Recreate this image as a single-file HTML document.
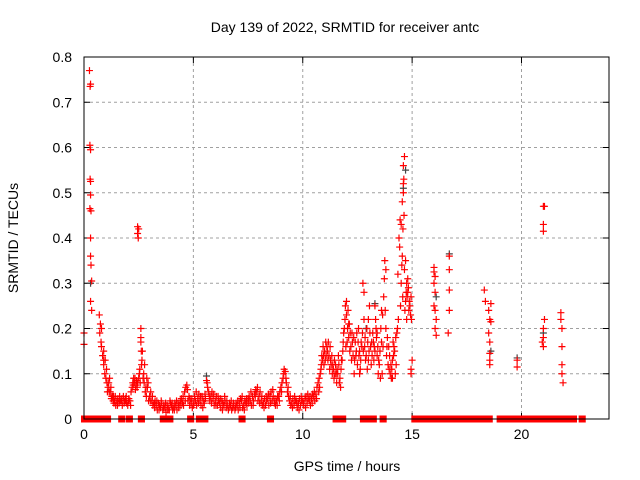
<!DOCTYPE html>
<html><head><meta charset="utf-8">
<style>
body{margin:0;background:#fff;}
svg{display:block;font-family:"Liberation Sans",sans-serif;}
</style></head>
<body>
<svg id="chart" width="640" height="480" xmlns="http://www.w3.org/2000/svg">
<rect width="640" height="480" fill="#fff"/>
<text x="345" y="32" font-size="14" text-anchor="middle" fill="#000">Day 139 of 2022, SRMTID for receiver antc</text>
<text x="347" y="471" font-size="14" text-anchor="middle" fill="#000">GPS time / hours</text>
<text x="18" y="238" font-size="14" text-anchor="middle" fill="#000" transform="rotate(-90 18 238)">SRMTID / TECUs</text>
<g id="grid"></g><g id="ticks"></g><g id="marks"></g>
<rect x="84" y="57" width="525" height="362" fill="none" stroke="#000" stroke-width="1"/>
</svg>
<script>
const xTicks=[0,5,10,15,20];
const yTicks=[0,0.1,0.2,0.3,0.4,0.5,0.6,0.7,0.8];
const yTickLabels=["0","0.1","0.2","0.3","0.4","0.5","0.6","0.7","0.8"];
const earlyPoints=[[0,0.19],[0,0.165],[0.25,0.77],[0.28,0.735],[0.3,0.74],[0.27,0.605],[0.3,0.595],[0.28,0.53],[0.3,0.525],[0.27,0.465],[0.32,0.46],[0.3,0.495],[0.3,0.4],[0.3,0.36],[0.32,0.34],[0.35,0.305],[0.3,0.26],[0.35,0.24],[0.7,0.23],[0.75,0.21],[0.8,0.2],[0.72,0.19],[0.78,0.17],[0.8,0.16],[0.85,0.14],[0.9,0.13],[0.9,0.15]];
const layerA=[[0.9,0.12],[1.0,0.09],[1.1,0.07],[1.2,0.06],[1.3,0.05],[1.4,0.04],[1.5,0.04],[1.6,0.035],[1.7,0.04],[1.8,0.05],[1.9,0.045],[2.0,0.03],[2.1,0.04],[2.2,0.07],[2.3,0.08],[2.4,0.085],[2.5,0.09],[2.6,0.17],[2.7,0.09],[2.8,0.06],[2.9,0.07],[3.0,0.05],[3.1,0.04],[3.2,0.035],[3.3,0.03],[3.4,0.035],[3.5,0.025],[3.6,0.02],[3.7,0.025],[3.8,0.03],[3.9,0.02],[4.0,0.03],[4.1,0.025],[4.2,0.03],[4.3,0.035],[4.4,0.04],[4.5,0.035],[4.6,0.06],[4.7,0.075],[4.8,0.05],[4.9,0.035],[5.0,0.03],[5.1,0.04],[5.2,0.045],[5.3,0.04],[5.4,0.05],[5.5,0.035],[5.6,0.085],[5.7,0.06],[5.8,0.05],[5.9,0.045],[6.0,0.04],[6.1,0.03],[6.2,0.035],[6.3,0.04],[6.4,0.03],[6.5,0.025],[6.6,0.02],[6.7,0.03],[6.8,0.025],[6.9,0.02],[7.0,0.03],[7.1,0.035],[7.2,0.04],[7.3,0.03],[7.4,0.035],[7.5,0.045],[7.6,0.04],[7.7,0.05],[7.8,0.055],[7.9,0.06],[8.0,0.05],[8.1,0.04],[8.2,0.035],[8.3,0.03],[8.4,0.045],[8.5,0.05],[8.6,0.04],[8.7,0.035],[8.8,0.04],[8.9,0.05],[9.0,0.07],[9.1,0.09],[9.2,0.105],[9.3,0.06],[9.4,0.04],[9.5,0.035],[9.6,0.03],[9.7,0.04],[9.8,0.035],[9.9,0.03],[10.0,0.04],[10.1,0.045],[10.2,0.035],[10.3,0.04],[10.4,0.045],[10.5,0.05],[10.6,0.055],[10.7,0.08],[10.8,0.1],[10.9,0.13],[11.0,0.15],[11.1,0.16],[11.2,0.14],[11.3,0.12],[11.4,0.11],[11.5,0.12],[11.6,0.1],[11.7,0.09],[11.8,0.13],[11.9,0.2],[12.0,0.23],[12.1,0.18],[12.2,0.16],[12.3,0.14],[12.4,0.17],[12.5,0.12],[12.6,0.15],[12.7,0.16],[12.8,0.22],[12.9,0.14],[13.0,0.13],[13.1,0.16],[13.2,0.19],[13.3,0.15],[13.4,0.14],[13.5,0.12],[13.6,0.17],[13.7,0.27],[13.8,0.2],[13.9,0.12],[14.0,0.1],[14.1,0.13],[14.2,0.15],[14.3,0.19],[14.4,0.4],[14.5,0.3],[14.6,0.5],[14.7,0.26],[14.8,0.28],[14.9,0.25],[15.0,0.13]];
const layerB=[[0.95,0.1],[1.05,0.08],[1.15,0.06],[1.25,0.045],[1.35,0.05],[1.45,0.03],[1.55,0.045],[1.65,0.04],[1.75,0.03],[1.85,0.04],[1.95,0.035],[2.05,0.045],[2.15,0.06],[2.25,0.075],[2.35,0.065],[2.45,0.08],[2.55,0.11],[2.65,0.13],[2.75,0.08],[2.85,0.05],[2.95,0.04],[3.05,0.06],[3.15,0.03],[3.25,0.04],[3.35,0.02],[3.45,0.03],[3.55,0.035],[3.65,0.03],[3.75,0.015],[3.85,0.025],[3.95,0.035],[4.05,0.02],[4.15,0.035],[4.25,0.02],[4.35,0.03],[4.45,0.045],[4.55,0.03],[4.65,0.07],[4.75,0.04],[4.85,0.045],[4.95,0.025],[5.05,0.05],[5.15,0.03],[5.25,0.055],[5.35,0.03],[5.45,0.04],[5.55,0.045],[5.65,0.07],[5.75,0.04],[5.85,0.06],[5.95,0.03],[6.05,0.05],[6.15,0.04],[6.25,0.025],[6.35,0.035],[6.45,0.04],[6.55,0.03],[6.65,0.035],[6.75,0.02],[6.85,0.03],[6.95,0.035],[7.05,0.02],[7.15,0.045],[7.25,0.025],[7.35,0.04],[7.45,0.03],[7.55,0.05],[7.65,0.03],[7.75,0.04],[7.85,0.065],[7.95,0.04],[8.05,0.06],[8.15,0.03],[8.25,0.045],[8.35,0.04],[8.45,0.03],[8.55,0.06],[8.65,0.05],[8.75,0.03],[8.85,0.05],[8.95,0.06],[9.05,0.08],[9.15,0.11],[9.25,0.08],[9.35,0.05],[9.45,0.03],[9.55,0.045],[9.65,0.04],[9.75,0.025],[9.85,0.045],[9.95,0.04],[10.05,0.03],[10.15,0.05],[10.25,0.045],[10.35,0.03],[10.45,0.055],[10.55,0.04],[10.65,0.07],[10.75,0.09],[10.85,0.12],[10.95,0.14],[11.05,0.17],[11.15,0.13],[11.25,0.16],[11.35,0.1],[11.45,0.13],[11.55,0.08],[11.65,0.12],[11.75,0.11],[11.85,0.17],[11.95,0.25],[12.05,0.2],[12.15,0.15],[12.25,0.19],[12.35,0.1],[12.45,0.15],[12.55,0.2],[12.65,0.13],[12.75,0.3],[12.85,0.18],[12.95,0.11],[13.05,0.25],[13.15,0.17],[13.25,0.13],[13.35,0.2],[13.45,0.1],[13.55,0.09],[13.65,0.23],[13.75,0.35],[13.85,0.16],[13.95,0.11],[14.05,0.09],[14.15,0.14],[14.25,0.18],[14.35,0.32],[14.45,0.44],[14.55,0.36],[14.65,0.58],[14.75,0.3],[14.85,0.24],[14.95,0.27]];
const layerC=[[1.03,0.11],[1.13,0.08],[1.23,0.07],[1.33,0.04],[1.43,0.05],[1.53,0.03],[1.63,0.05],[1.73,0.045],[1.83,0.035],[1.93,0.05],[2.03,0.04],[2.13,0.03],[2.23,0.08],[2.33,0.09],[2.43,0.07],[2.53,0.1],[2.63,0.12],[2.73,0.1],[2.83,0.07],[2.93,0.08],[3.03,0.04],[3.13,0.05],[3.23,0.025],[3.33,0.04],[3.43,0.02],[3.53,0.04],[3.63,0.025],[3.73,0.035],[3.83,0.02],[3.93,0.04],[4.03,0.035],[4.13,0.02],[4.23,0.04],[4.33,0.025],[4.43,0.03],[4.53,0.05],[4.63,0.04],[4.73,0.065],[4.83,0.03],[4.93,0.045],[5.03,0.035],[5.13,0.06],[5.23,0.035],[5.33,0.05],[5.43,0.025],[5.53,0.055],[5.63,0.08],[5.73,0.05],[5.83,0.035],[5.93,0.055],[6.03,0.03],[6.13,0.05],[6.23,0.045],[6.33,0.02],[6.43,0.05],[6.53,0.04],[6.63,0.025],[6.73,0.04],[6.83,0.035],[6.93,0.025],[7.03,0.04],[7.13,0.025],[7.23,0.05],[7.33,0.02],[7.43,0.045],[7.53,0.035],[7.63,0.06],[7.73,0.03],[7.83,0.05],[7.93,0.07],[8.03,0.035],[8.13,0.05],[8.23,0.025],[8.33,0.05],[8.43,0.055],[8.53,0.035],[8.63,0.065],[8.73,0.045],[8.83,0.03],[8.93,0.04],[9.03,0.06],[9.13,0.1],[9.23,0.09],[9.33,0.07],[9.43,0.05],[9.53,0.025],[9.63,0.05],[9.73,0.035],[9.83,0.02],[9.93,0.05],[10.03,0.035],[10.13,0.025],[10.23,0.055],[10.33,0.05],[10.43,0.035],[10.53,0.06],[10.63,0.045],[10.73,0.06],[10.83,0.11],[10.93,0.16],[11.03,0.13],[11.13,0.15],[11.23,0.11],[11.33,0.14],[11.43,0.09],[11.53,0.1],[11.63,0.14],[11.73,0.07],[11.83,0.15],[11.93,0.22],[12.03,0.17],[12.13,0.21],[12.23,0.13],[12.33,0.18],[12.43,0.14],[12.53,0.17],[12.63,0.11],[12.73,0.19],[12.83,0.16],[12.93,0.2],[13.03,0.15],[13.13,0.12],[13.23,0.17],[13.33,0.22],[13.43,0.16],[13.53,0.15],[13.63,0.1],[13.73,0.31],[13.83,0.14],[13.93,0.16],[14.03,0.12],[14.13,0.17],[14.23,0.1],[14.33,0.2],[14.43,0.38],[14.53,0.34],[14.63,0.45],[14.73,0.28],[14.83,0.29],[14.93,0.23]];
const layerD=[[0.97,0.13],[1.07,0.06],[1.17,0.09],[1.27,0.05],[1.37,0.035],[2.27,0.09],[2.37,0.075],[2.57,0.08],[2.67,0.15],[2.77,0.12],[2.87,0.09],[10.77,0.07],[10.87,0.14],[10.97,0.12],[11.07,0.14],[11.17,0.17],[11.27,0.13],[11.37,0.12],[11.47,0.1],[11.57,0.11],[11.67,0.08],[11.77,0.13],[11.87,0.19],[11.97,0.16],[12.07,0.24],[12.17,0.19],[12.27,0.17],[12.37,0.13],[12.47,0.19],[12.57,0.14],[12.67,0.17],[12.77,0.15],[12.87,0.13],[12.97,0.17],[13.07,0.19],[13.17,0.14],[13.27,0.16],[13.37,0.18],[13.47,0.13],[13.57,0.2],[13.67,0.16],[13.77,0.24],[13.87,0.18],[13.97,0.14],[14.07,0.11],[14.17,0.16],[14.27,0.12],[14.37,0.22],[14.47,0.25],[14.57,0.27],[14.67,0.24],[14.77,0.27],[14.87,0.26],[14.97,0.22]];
const extraPoints=[[2.45,0.425],[2.5,0.42],[2.45,0.41],[2.48,0.4],[2.6,0.2],[2.6,0.18],[2.62,0.15],[1.9,0.04],[12.0,0.26],[12.1,0.21],[12.6,0.1],[12.8,0.28],[13.0,0.22],[13.3,0.25],[13.4,0.19],[13.6,0.24],[13.8,0.33],[14.1,0.09],[14.5,0.43],[14.6,0.56],[14.62,0.53],[14.6,0.52],[14.55,0.48],[14.58,0.42],[14.7,0.35],[14.65,0.33],[14.8,0.31],[14.75,0.22],[14.95,0.11],[14.95,0.1],[16.0,0.335],[16.0,0.325],[16.05,0.315],[16.0,0.3],[16.05,0.28],[16.0,0.25],[16.05,0.24],[16.1,0.22],[16.05,0.2],[16.1,0.185],[16.7,0.36],[16.7,0.33],[16.7,0.285],[16.7,0.24],[16.65,0.19],[18.3,0.285],[18.35,0.26],[18.6,0.255],[18.5,0.24],[18.55,0.22],[18.6,0.215],[18.5,0.19],[18.55,0.17],[18.55,0.145],[18.55,0.13],[18.55,0.12],[19.8,0.13],[19.8,0.115],[21.0,0.47],[21.05,0.47],[21.0,0.43],[21.0,0.415],[21.05,0.22],[21.0,0.2],[21.0,0.18],[20.95,0.17],[21.0,0.16],[21.8,0.235],[21.8,0.22],[21.85,0.2],[21.85,0.16],[21.85,0.12],[21.85,0.1],[21.9,0.08]];
const greyPoints=[[5.6,0.095],[16.7,0.365],[14.7,0.55],[19.8,0.135],[13.3,0.255],[14.6,0.51],[16.1,0.27],[18.6,0.15],[21.0,0.19],[12.9,0.2],[0.3,0.3]];
const zeroSegments=[[0,0.4],[0.55,0.8],[0.9,1.1],[1.7,1.75],[2.05,2.1],[2.6,2.65],[3.6,3.65],[3.9,3.95],[4.85,4.9],[5.25,5.3],[5.5,5.55],[7.2,7.25],[8.5,8.55],[11.5,11.65],[11.8,11.85],[12.75,12.95],[13.2,13.25],[13.65,13.7],[15.1,16.0],[16.2,16.7],[16.85,17.3],[17.45,17.8],[17.95,18.55],[19.0,19.3],[19.4,20.7],[20.75,20.95],[21.2,21.5],[21.6,21.65],[21.8,22.4],[22.75,22.8]];

const X0=84,X1=609,Y0=419,Y1=57,XMAX=24,YMAX=0.8;
function sx(t){return X0+(X1-X0)*t/XMAX;}
function sy(v){return Y0-(Y0-Y1)*v/YMAX;}
const NS="http://www.w3.org/2000/svg";
function mk(tag,attrs,parent){const e=document.createElementNS(NS,tag);for(const k in attrs)e.setAttribute(k,attrs[k]);parent.appendChild(e);return e;}
const grid=document.getElementById('grid'),ticks=document.getElementById('ticks'),marks=document.getElementById('marks');
xTicks.forEach(t=>{
  const x=sx(t);
  if(t>0){const g=mk('line',{x1:x,x2:x,y1:Y1,y2:Y0,stroke:'#a0a0a0','stroke-dasharray':'3,3','stroke-width':1},grid);
  
  }
  mk('line',{x1:x,x2:x,y1:Y0,y2:Y0-6,stroke:'#000'},ticks);
  mk('line',{x1:x,x2:x,y1:Y1,y2:Y1+6,stroke:'#000'},ticks);
  const l=mk('text',{x:x,y:Y0+20,'font-size':14,'text-anchor':'middle',fill:'#000'},ticks);
  l.textContent=String(t);
  
  
});
yTicks.forEach((v,i)=>{
  const y=sy(v);
  if(v>0&&v<YMAX){const g=mk('line',{x1:X0,x2:X1,y1:y,y2:y,stroke:'#a0a0a0','stroke-dasharray':'3,3','stroke-width':1},grid);
  
  }
  mk('line',{x1:X0,x2:X0+6,y1:y,y2:y,stroke:'#000'},ticks);
  mk('line',{x1:X1,x2:X1-6,y1:y,y2:y,stroke:'#000'},ticks);
  const l=mk('text',{x:X0-12,y:y+5,'font-size':14,'text-anchor':'end',fill:'#000'},ticks);
  l.textContent=yTickLabels[i];
  
  
});
function plus(t,v,color,name){
  const x=sx(t),y=sy(v);
  const p=mk('path',{d:`M${x-3.5},${y}H${x+3.5}M${x},${y-3.5}V${y+3.5}`,stroke:color,'stroke-width':1.2,fill:'none'},marks);
  
  
}
greyPoints.forEach(d=>plus(d[0],d[1],'#444','grey-point'));
[earlyPoints,layerA,layerB,layerC,layerD,extraPoints].forEach(arr=>arr.forEach(d=>plus(d[0],d[1],'#ff0000','srmtid-point')));
zeroSegments.forEach(s=>{
  const r=mk('rect',{x:sx(s[0])-3,y:sy(0)-3.5,width:sx(s[1])-sx(s[0])+6,height:7,fill:'#ff0000'},marks);
  
  
});
</script>
</body></html>
